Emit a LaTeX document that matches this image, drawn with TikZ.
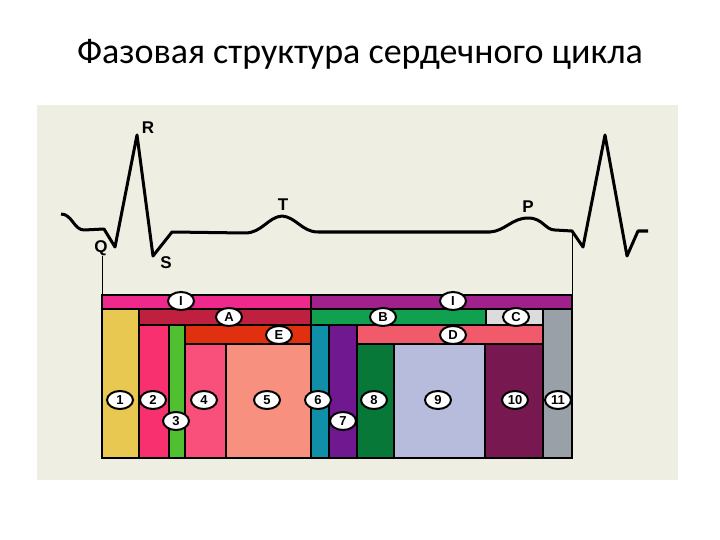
\documentclass[tikz,border=0pt]{standalone}
\usepackage{fontspec}
\setmainfont{Carlito}
\newfontfamily\lab{Liberation Sans}
\usetikzlibrary{shapes.geometric}
\definecolor{bg}{HTML}{EEEEE2}
\definecolor{cIa}{HTML}{F0288C}\definecolor{cIb}{HTML}{A0208C}
\definecolor{cA}{HTML}{C02040}\definecolor{cB}{HTML}{10A050}
\definecolor{cC}{HTML}{DCDCDC}\definecolor{cK}{HTML}{9AA0A8}
\definecolor{cE}{HTML}{E03010}\definecolor{cD}{HTML}{F05A6A}
\definecolor{c1}{HTML}{E8C850}\definecolor{c2}{HTML}{F83070}
\definecolor{c3}{HTML}{50C030}\definecolor{c4}{HTML}{F8507A}
\definecolor{c5}{HTML}{F89080}\definecolor{c6}{HTML}{1090A8}
\definecolor{c7}{HTML}{701890}\definecolor{c8}{HTML}{087838}
\definecolor{c9}{HTML}{B8BCDC}\definecolor{c10}{HTML}{781850}
\tikzset{
 blk/.style={draw=black,line width=1.2pt},
 tag/.style={ellipse,draw=black,line width=2pt,fill=white,minimum width=26pt,minimum height=18pt,inner sep=0pt,font=\lab\bfseries\fontsize{13}{13}\selectfont},
 wlab/.style={font=\lab\bfseries\fontsize{17}{17}\selectfont},
 ecg/.style={line width=3pt,line join=round}
}
\begin{document}
\begin{tikzpicture}[x=1pt,y=-1pt]
\useasboundingbox (0,0) rectangle (720,540);
\fill[white] (0,0) rectangle (720,540);
\fill[bg] (37,105) rectangle (678,480);
\node[font=\fontsize{36}{36}\selectfont] (title) at (360,54) {Фазовая структура сердечного цикла};
% ECG
\draw[ecg] (61,214) .. controls (72,214) and (74,230) .. (84,230) -- (104,229) -- (115,247) -- (137,135) -- (153,256) -- (172,232) -- (245,233)
 .. controls (262,233) and (268,217) .. (282,216) .. controls (296,217) and (302,232) .. (318,232) -- (490,232)
 .. controls (505,231) and (512,218) .. (528,218) .. controls (543,218) and (545,230) .. (555,230) -- (572,231) -- (583,247) -- (605,135) -- (627,256) -- (638,231) -- (648,231);
\node[wlab] (R) at (148,128) {R};
\node[wlab] (T) at (283,205) {T};
\node[wlab] (Q) at (101,248) {Q};
\node[wlab] (S) at (166,263) {S};
\node[wlab] (P) at (528,207) {P};
\coordinate (qa) at (102,256); \coordinate (qb) at (102,295);
\coordinate (pa) at (572,231); \coordinate (pb) at (572,295);
\draw[line width=0.9pt] (qa) -- (qb);
\draw[line width=0.9pt] (pa) -- (pb);
% bars
\draw[blk,fill=cIa] (102,295) rectangle (311,309);
\draw[blk,fill=cIb] (311,295) rectangle (572,309);
\draw[blk,fill=c1] (102,309) rectangle (139,458);
\draw[blk,fill=cA] (139,309) rectangle (311,325);
\draw[blk,fill=cB] (311,309) rectangle (486,325);
\draw[blk,fill=cC] (486,309) rectangle (543,325);
\draw[blk,fill=cK] (543,309) rectangle (572,458);
\draw[blk,fill=c2] (139,325) rectangle (169,458);
\draw[blk,fill=c3] (169,325) rectangle (185,458);
\draw[blk,fill=cE] (185,325) rectangle (311,344);
\draw[blk,fill=c6] (311,325) rectangle (329,458);
\draw[blk,fill=c7] (329,325) rectangle (357,458);
\draw[blk,fill=cD] (357,325) rectangle (543,344);
\draw[blk,fill=c4] (185,344) rectangle (226,458);
\draw[blk,fill=c5] (226,344) rectangle (311,458);
\draw[blk,fill=c8] (357,344) rectangle (394,458);
\draw[blk,fill=c9] (394,344) rectangle (485,458);
\draw[blk,fill=c10] (485,344) rectangle (543,458);
% tags
\node[tag] (tIa) at (181,301) {I};
\node[tag] (tIb) at (453,301) {I};
\node[tag] (tA) at (229,317) {A};
\node[tag] (tE) at (279,335) {E};
\node[tag] (tB) at (383,317) {B};
\node[tag] (tC) at (516,317) {C};
\node[tag] (tD) at (453,335) {D};
\node[tag] (t1) at (120,400) {1};
\node[tag] (t2) at (153,400) {2};
\node[tag] (t3) at (176,421) {3};
\node[tag] (t4) at (204,400) {4};
\node[tag] (t5) at (267,400) {5};
\node[tag] (t6) at (318,400) {6};
\node[tag] (t7) at (343,421) {7};
\node[tag] (t8) at (374,400) {8};
\node[tag] (t9) at (438,400) {9};
\node[tag] (t10) at (515,400) {10};
\node[tag] (t11) at (558,400) {11};
\end{tikzpicture}
\end{document}
